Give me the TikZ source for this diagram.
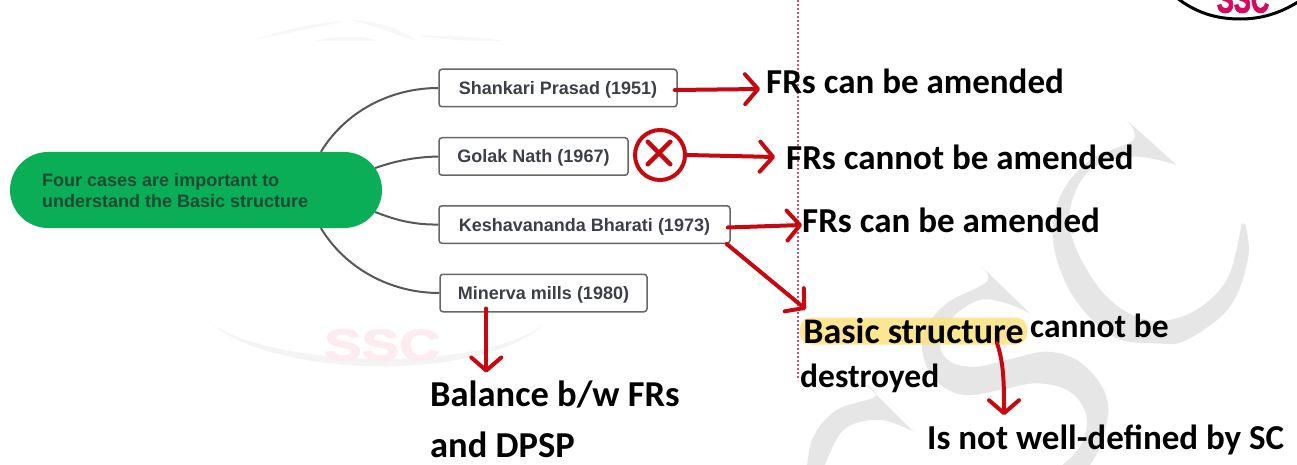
\documentclass[tikz,border=0pt]{standalone}
\usepackage{fontspec}
\setmainfont{Liberation Sans}
\newfontfamily\hand{Carlito}
\newfontfamily\heavy{Liberation Sans}[BoldFeatures={FakeBold=2.5}]
\usetikzlibrary{arrows.meta,calc,shapes.misc}
\definecolor{wm}{HTML}{E6E6E6}
\definecolor{ghost}{HTML}{F4F4F4}
\definecolor{ghosttop}{HTML}{F7F7F7}
\definecolor{ghostpink}{HTML}{FDECEF}
\definecolor{redink}{HTML}{C8080F}
\definecolor{boxline}{HTML}{666666}
\definecolor{boxtext}{HTML}{3C4046}
\definecolor{pill}{HTML}{0AAE56}
\definecolor{pilltext}{HTML}{1F4A33}
\definecolor{hl}{HTML}{FDE27E}
\definecolor{dots}{HTML}{D8497A}
\definecolor{logopink}{HTML}{D8085E}
\tikzset{
  case/.style={draw=boxline,line width=1.5pt,rounded corners=3pt,fill=white,inner sep=0pt,
    minimum height=37.5pt,text=boxtext,text height=15pt,text depth=2pt,font=\fontsize{18}{20}\selectfont\bfseries},
  branch/.style={draw=boxline!85!black,line width=2pt},
  ink/.style={draw=redink,line width=4pt,line cap=round,
    -{Straight Barb[round,length=13pt,width=30pt]}},
  hw/.style={inner sep=0pt,anchor=west,text=black,font=\hand\bfseries\fontsize{35}{40}\selectfont},
}
\begin{document}
\begin{tikzpicture}[x=1pt,y=-1pt]
\clip (0,0) rectangle (1297,465);
\fill[white] (0,0) rectangle (1297,465);
% watermark
\begin{scope}[shift={(780,100)},x=0.3333pt,y=-0.3333pt]
\fill[wm] plot[smooth,tension=.6] coordinates {(1190,195) (1060,170) (930,210) (870,330) (890,450) (980,590) (1100,660) (1230,640) (1340,540) (1385,370)}
  -- plot[smooth,tension=.6] coordinates {(1395,372) (1405,470) (1350,620) (1220,720) (1130,730) (1000,710) (880,590) (820,430) (840,290) (930,180) (1060,120) (1040,60)} -- cycle;
\end{scope}
\begin{scope}[shift={(800,250)},x=0.3333pt,y=-0.3333pt]
\fill[wm] plot[smooth,tension=.6] coordinates {(690,190) (620,160) (540,150) (460,200) (420,280) (450,335) (530,350) (640,325) (740,305) (830,330) (900,400) (925,480) (900,590) (860,660)}
  -- plot[smooth,tension=.6] coordinates {(770,660) (840,590) (860,500) (810,425) (710,400) (600,420) (490,435) (410,395) (370,320) (375,240) (440,160) (560,95) (545,50)} -- cycle;
\fill[wm] plot[smooth,tension=.6] coordinates {(340,545) (240,510) (130,540) (70,660)}
  -- plot[smooth,tension=.6] coordinates {(20,660) (40,560) (110,480) (225,440) (200,405)} -- cycle;
\end{scope}
% faint emblem traces
\fill[ghost] (213,325) .. controls (280,378) and (480,382) .. (543,325)
  .. controls (480,372) and (280,368) .. (213,325) -- cycle;
\node[text=ghostpink,inner sep=0pt,font=\heavy\bfseries\fontsize{44}{44}\selectfont,xscale=1.28] (ghostssc) at (382,345) {SSC};
\fill[ghosttop] (250,41) .. controls (290,28) and (320,22) .. (345,21) .. controls (320,27) and (290,32) .. (250,41) -- cycle;
\fill[ghosttop] (315,41) .. controls (340,35) and (360,35) .. (378,41) -- cycle;
\fill[ghosttop] (350,20) .. controls (385,22) and (400,30) .. (418,41) .. controls (395,35) and (375,25) .. (350,20) -- cycle;
\fill[ghosttop] (420,36) .. controls (450,35) and (480,37) .. (505,41) .. controls (480,41) and (450,41) .. (420,36) -- cycle;
% logo
\draw[black,line width=3pt] (1177,-2) .. controls (1195,12) and (1215,19) .. (1240,19) .. controls (1262,19) and (1280,13) .. (1298,2);
\node[text=logopink,inner sep=0pt,font=\heavy\bfseries\fontsize{30}{30}\selectfont,xscale=.85,yscale=1.3] (logossc) at (1243,-1) {SSC};
% dotted line
\draw[dots,line width=1.4pt,dash pattern=on 2pt off 2pt] (798,0) coordinate (dtop) -- (798,380) coordinate (dbot);
% root and cases
\node[rounded rectangle,fill=pill,inner sep=0pt,minimum width=372pt,minimum height=76pt] (root) at (196,190) {};
\node[anchor=west,align=left,inner sep=0pt,text=pilltext,font=\fontsize{18}{21}\selectfont\bfseries] (rootlabel) at (42,190.5) {Four cases are important to\\understand the Basic structure};
\node[case,minimum width=238pt] (sp) at (558,88) {Shankari Prasad (1951)};
\node[case,minimum width=189pt] (gn) at (533.5,156.5) {Golak Nath (1967)};
\node[case,minimum width=291pt] (kb) at (584.5,224.5) {Keshavananda Bharati (1973)};
\node[case,minimum width=207pt] (mm) at (543.5,293) {Minerva mills (1980)};
\draw[branch] (root.17.3) .. controls (345,112) and (390,88) .. (sp.west);
\draw[branch] (root.7) .. controls (395,161) and (415,157) .. (gn.west);
\draw[branch] (root.-7) .. controls (395,220) and (415,225) .. (kb.west);
\draw[branch] (root.-17.3) .. controls (345,268) and (390,293) .. (mm.west);
% handwritten texts
\node[hw] (t1) at (766,81) {FRs can be amended};
\node[hw] (t2) at (786,157) {FRs cannot be amended};
\node[hw] (t3) at (802,220) {FRs can be amended};
\node[rounded corners=11pt,fill=hl,fill opacity=.85,text opacity=1,inner sep=0pt,minimum width=227pt,minimum height=27pt,font=\hand\bfseries\fontsize{36}{40}\selectfont] (bs) at (913.5,331) {Basic structure};
\node[hw,font=\hand\bfseries\fontsize{33.5}{40}\selectfont] (t4) at (1030,326) {cannot be};
\node[hw,font=\hand\bfseries\fontsize{33.5}{40}\selectfont] (t5) at (800,378) {destroyed};
\node[hw] (t6) at (927,440) {Is not well-defined by SC};
\node[hw,font=\hand\bfseries\fontsize{36.5}{40}\selectfont] (t7) at (430,395) {Balance b/w FRs};
\node[hw,font=\hand\bfseries\fontsize{36.5}{40}\selectfont] (t8) at (430,445) {and DPSP};
% cross
\node[circle,draw=redink,line width=4pt,minimum size=50pt,inner sep=0pt] (xc) at (660,155) {};
\node[cross out,draw=redink,line width=4.5pt,line cap=round,minimum size=18pt,inner sep=0pt] (xm) at (659,153) {};
% arrows
\coordinate (a5s) at ($(mm.south west)+(47,-4)$);
\coordinate (a5e) at ($(mm.south west)+(47,60)$);
\coordinate (a6s) at ($(bs.south)+(83.5,-1.5)$);
\coordinate (a6e) at ($(bs.south)+(90.5,70.5)$);
\draw[ink] ([xshift=-3pt,yshift=-2pt]sp.east) -- ([xshift=-6pt,yshift=-8pt]t1.west);
\draw[ink] (xc.east) -- ([xshift=-11pt]t2.west);
\draw[ink] ([xshift=-3pt,yshift=-3pt]kb.east) -- ([yshift=-5pt]t3.west);
\draw[ink] ([xshift=-4pt]kb.south east) -- ([xshift=6pt,yshift=8pt]bs.north west);
\draw[ink] (a5s) -- (a5e);
\draw[ink] (a6s) .. controls ($(a6s)+(7,20)$) and ($(a6e)+(0,-30)$) .. (a6e);
\end{tikzpicture}
\end{document}
